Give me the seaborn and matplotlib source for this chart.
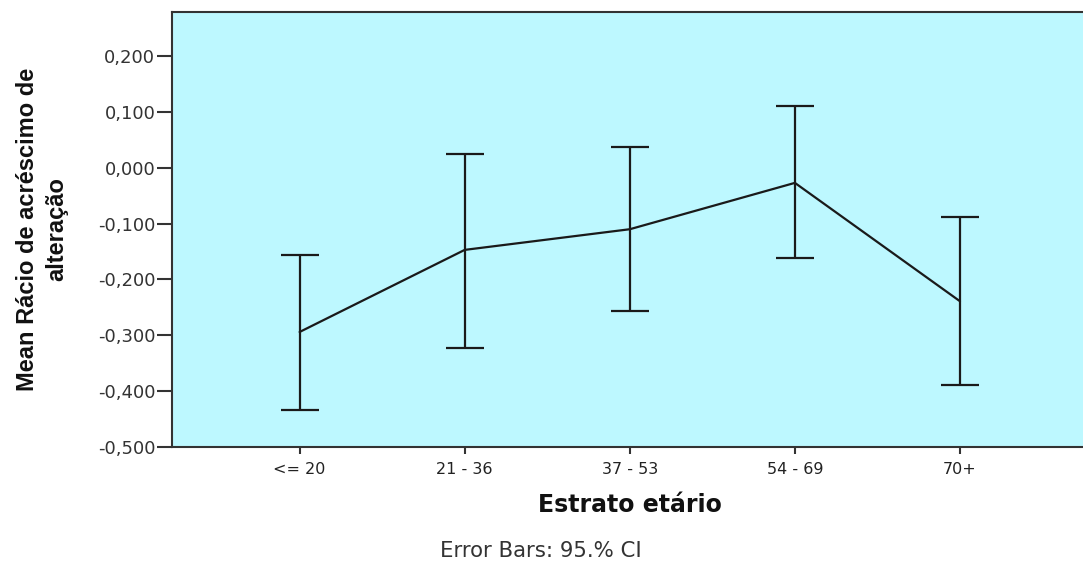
import pandas as pd
import numpy as np
import matplotlib
matplotlib.use("Agg")
import matplotlib.pyplot as plt
from matplotlib.ticker import FuncFormatter
import seaborn as sns

# data
strata = ["<= 20", "21 - 36", "37 - 53", "54 - 69", "70+"]
means = [-0.294, -0.147, -0.110, -0.027, -0.239]
ci_low = [-0.434, -0.323, -0.257, -0.162, -0.389]
ci_high = [-0.156, 0.025, 0.038, 0.110, -0.088]

df = pd.DataFrame({"Estrato": strata, "Mean": means, "Low": ci_low, "High": ci_high})

sns.set_style("ticks")
plt.rcParams["font.family"] = ["DejaVu Sans"]

fig = plt.figure(figsize=(10.83, 5.65), dpi=100)
ax = fig.add_axes([0.1588, 0.2088, 0.845, 0.770])
ax.set_facecolor("#BDF8FF")

sns.pointplot(data=df, x="Estrato", y="Mean", errorbar=None, markers="",
              color="#1a1a1a", linewidth=1.6, ax=ax)

xpos = np.arange(len(strata))
ax.errorbar(xpos, df["Mean"],
            yerr=[df["Mean"] - df["Low"], df["High"] - df["Mean"]],
            fmt="none", ecolor="#1a1a1a", elinewidth=1.6, capsize=14, capthick=1.6)

ax.set_xlim(-0.773, 4.77)
ax.set_ylim(-0.5, 0.279)
ax.set_yticks([-0.5, -0.4, -0.3, -0.2, -0.1, 0.0, 0.1, 0.2])
ax.yaxis.set_major_formatter(FuncFormatter(lambda v, p: f"{v:.3f}".replace(".", ",")))

for s in ax.spines.values():
    s.set_color("#333333")
    s.set_linewidth(1.5)
ax.spines["right"].set_visible(False)

ax.tick_params(axis="y", length=11, width=1.5, color="#333333", pad=1,
               labelsize=13, labelcolor="#333333")
ax.tick_params(axis="x", length=5, width=1.5, color="#333333", pad=6,
               labelsize=11.5, labelcolor="#222222")

ax.set_xlabel("Estrato etário", fontsize=17, fontweight="bold", color="#111111")
ax.xaxis.set_label_coords(0.5, -0.105)
ax.set_ylabel("Mean Rácio de acréscimo de\nalteração", fontsize=17, fontweight="bold",
              family=["Liberation Sans", "DejaVu Sans"],
              color="#111111", linespacing=1.35)
ax.yaxis.set_label_coords(-0.1137, 0.50)

fig.text(0.4995, 0.0248, "Error Bars: 95.% CI", ha="center", va="center",
         fontsize=15.3, color="#333333")

fig.savefig("out.png", dpi=100)
